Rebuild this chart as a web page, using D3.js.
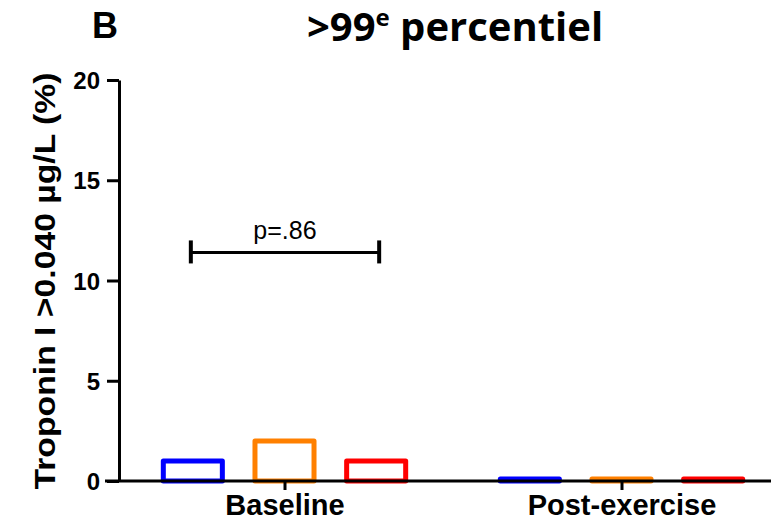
<!doctype html>
<html lang="en">
<head>
  <meta charset="utf-8">
  <title>Troponin I >99e percentiel</title>
  <script src="https://d3js.org/d3.v7.min.js"></script>
  <style>
    body { margin: 0; background: #fff; }
    .axis path, .axis line { stroke: #000; stroke-width: 3; }
    .axis text { font-family: Arial, 'Liberation Sans', sans-serif; font-weight: bold; fill: #000; }
  </style>
</head>
<body>
  <div id="chart"></div>
  <script>
    // data
    var groups = ['Baseline', 'Post-exercise'];
    var series = ['s1', 's2', 's3'];
    var colors = ['#0000ff', '#ff8000', '#ff0000'];
    var baselineValues = [1, 2, 1];
    var postValues = [0.1, 0.1, 0.1];
    var yTicks = [0, 5, 10, 15, 20];
    var pLabel = 'p=.86';

    var width = 771, height = 525;
    var svg = d3.select('#chart').append('svg')
        .attr('width', width).attr('height', height);

    var x = d3.scaleBand().domain(groups).range([116, 790]);
    var inner = d3.scaleBand().domain(series).range([0, 275]).paddingInner(0.356).paddingOuter(0.178);
    var y = d3.scaleLinear().domain([0, 20]).range([481, 80]);

    var xc = function(g) { return x(g) + x.bandwidth() / 2; };
    var xg = function(g) { return xc(g) - 137.5; };

    // bars
    var rows = [];
    [baselineValues, postValues].forEach(function(vals, gi) {
      vals.forEach(function(v, si) {
        rows.push({group: groups[gi], s: series[si], v: v, c: colors[si]});
      });
    });

    svg.selectAll('rect.bar').data(rows).enter().append('rect')
        .attr('class', 'bar')
        .attr('x', function(d) { return xg(d.group) + inner(d.s); })
        .attr('y', function(d) { return y(d.v); })
        .attr('width', inner.bandwidth())
        .attr('height', function(d) { return y(0) - y(d.v); })
        .attr('fill', 'none')
        .attr('stroke', function(d) { return d.c; })
        .attr('stroke-width', 5)
        .attr('stroke-linejoin', 'round');

    // x axis
    var xAxis = svg.append('g').attr('class', 'axis')
        .attr('transform', 'translate(0,' + y(0) + ')')
        .call(d3.axisBottom(d3.scalePoint().domain(groups).range([xc(groups[0]), xc(groups[1])]))
          .tickSize(9).tickPadding(4));
    xAxis.select('.domain').remove();
    xAxis.append('line').attr('x1', 105).attr('x2', width).attr('stroke', '#000').attr('stroke-width', 3);
    xAxis.selectAll('text').style('font-size', '29px');

    // y axis
    var yAxis = svg.append('g').attr('class', 'axis')
        .attr('transform', 'translate(119,0)')
        .call(d3.axisLeft(y).tickValues(yTicks).tickSize(12).tickSizeOuter(0).tickPadding(7));
    yAxis.selectAll('text').style('font-size', '24px').attr('dy', '0.36em');

    // y label
    svg.append('text')
        .attr('transform', 'translate(55,281) rotate(-90)')
        .attr('text-anchor', 'middle')
        .attr('textLength', 417)
        .attr('lengthAdjust', 'spacingAndGlyphs')
        .style('font-family', 'Arial, Liberation Sans, sans-serif')
        .style('font-weight', 'bold')
        .style('font-size', '30px')
        .text('Troponin I >0.040 \u00b5g/L (%)');

    // significance bracket between first and last baseline bar
    var x1 = xg(groups[0]) + inner(series[0]) + inner.bandwidth() / 2 - 2;
    var x2 = xg(groups[0]) + inner(series[2]) + inner.bandwidth() / 2 + 3;
    var yb = y(11.4);
    var br = svg.append('g').attr('stroke', '#000').attr('stroke-width', 3);
    br.append('line').attr('x1', x1).attr('x2', x2).attr('y1', yb).attr('y2', yb);
    br.append('line').attr('x1', x1).attr('x2', x1).attr('y1', yb - 12).attr('y2', yb + 11).attr('stroke-width', 4);
    br.append('line').attr('x1', x2).attr('x2', x2).attr('y1', yb - 12).attr('y2', yb + 11).attr('stroke-width', 4);
    svg.append('text')
        .attr('x', (x1 + x2) / 2).attr('y', yb - 13)
        .attr('text-anchor', 'middle')
        .style('font-family', 'Arial, Liberation Sans, sans-serif')
        .style('font-size', '25px')
        .text(pLabel);

    // titles
    svg.append('text').attr('x', 105).attr('y', 38).attr('text-anchor', 'middle')
        .style('font-family', 'Arial, Liberation Sans, sans-serif').style('font-weight', 'bold').style('font-size', '36px')
        .text('B');
    var t = svg.append('text').attr('x', 455).attr('y', 41).attr('text-anchor', 'middle')
        .style('font-family', 'Open Sans, sans-serif').style('font-weight', 'bold').style('font-size', '40px');
    t.append('tspan').text('>99');
    t.append('tspan').attr('dy', -15).style('font-size', '24px').text('e');
    t.append('tspan').attr('dy', 15).text(' percentiel');
  </script>
</body>
</html>
